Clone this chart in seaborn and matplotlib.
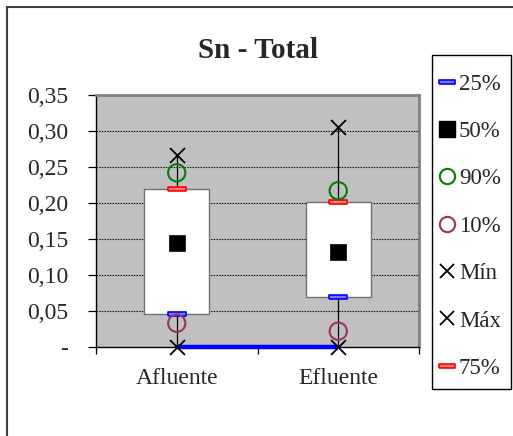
import numpy as np
import pandas as pd
import matplotlib
matplotlib.use("Agg")
import matplotlib.pyplot as plt
from matplotlib.lines import Line2D
from matplotlib.patches import Rectangle
import seaborn as sns

# Percentile summary per sampling point
categories = ["Afluente", "Efluente"]
p25 = [0.046, 0.069]
p50 = [0.145, 0.132]
p75 = [0.219, 0.202]
p90 = [0.242, 0.217]
p10 = [0.033, 0.022]
v_min = [0.0, 0.0]
v_max = [0.267, 0.305]

y_ticks = [0.0, 0.05, 0.10, 0.15, 0.20, 0.25, 0.30, 0.35]
y_tick_labels = ["-", "0,05", "0,10", "0,15", "0,20", "0,25", "0,30", "0,35"]
title = "Sn - Total"

sns.set_theme(style="white")
plt.rcParams["font.family"] = ["Liberation Serif", "DejaVu Serif"]

W, H = 513, 436
fig = plt.figure(figsize=(W / 100, H / 100), dpi=100)
ax = fig.add_axes([96 / W, 1 - 347 / H, (419 - 96) / W, (347 - 95) / H])
ax.set_facecolor("#c0c0c0")

pos = np.arange(len(categories))
df = pd.DataFrame({"x": pos, "cat": categories, "p10": p10, "p25": p25, "p50": p50,
                   "p75": p75, "p90": p90, "min": v_min, "max": v_max})

# gridlines
for t in y_ticks[1:-1]:
    ax.axhline(t, color="black", lw=0.8, ls=(0, (1.2, 1.2)), zorder=1)

# whiskers from min to max
for _, r in df.iterrows():
    ax.plot([r.x, r.x], [r["min"], r["max"]], color="black", lw=0.9, zorder=2)

# boxes from 25% to 75%
ax.bar(df.x, df.p75 - df.p25, bottom=df.p25, width=0.4, color="white",
       edgecolor="#707070", linewidth=1.0, zorder=3)

# line joining the minima
sns.lineplot(data=df, x="x", y="min", color="#0000ff", lw=3.2, ax=ax, zorder=4,
             clip_on=False, legend=False)

dash = [(-1, -0.22), (1, -0.22), (1, 0.22), (-1, 0.22), (-1, -0.22)]
styles = {
    "p25": dict(marker=dash, s=165, facecolor="#7777ff", edgecolor="#0000ff", linewidth=1.2),
    "p75": dict(marker=dash, s=165, facecolor="#ff7777", edgecolor="#ff0000", linewidth=1.2),
    "p50": dict(marker="s", s=125, facecolor="black", edgecolor="black", linewidth=0.5),
    "p90": dict(marker="o", s=155, facecolor="none", edgecolor="#008000", linewidth=1.5),
    "p10": dict(marker="o", s=155, facecolor="none", edgecolor="#993366", linewidth=1.5),
    "min": dict(marker="x", s=115, color="black", linewidth=1.3),
    "max": dict(marker="x", s=115, color="black", linewidth=1.3),
}
for col, st in styles.items():
    sns.scatterplot(data=df, x="x", y=col, ax=ax, zorder=5, clip_on=False, legend=False, **st)

ax.set_xlim(-0.5, 1.5)
ax.set_ylim(0, 0.35)
ax.set_xlabel("")
ax.set_ylabel("")
ax.set_yticks(y_ticks)
ax.set_yticklabels(y_tick_labels)
ax.set_xticks([-0.5, 0.5, 1.5])
ax.set_xticklabels([])
ax.set_xticks(pos, minor=True)
ax.set_xticklabels(categories, minor=True)
ax.tick_params(axis="y", which="major", direction="out", length=6, width=0.9,
               color="black", pad=14, labelsize=17, left=True)
ax.tick_params(axis="x", which="major", direction="out", length=5, width=0.9,
               color="black", bottom=True)
ax.tick_params(axis="x", which="minor", length=0, pad=15, labelsize=17)

for side in ["top", "right"]:
    ax.spines[side].set_color("#808080")
    ax.spines[side].set_linewidth(2)
for side in ["left", "bottom"]:
    ax.spines[side].set_color("black")
    ax.spines[side].set_linewidth(1.0)

ax.set_title(title, fontsize=21, fontweight="bold", pad=27)

# chart frame
fig.patches.append(Rectangle((7 / W, -0.1), 1.2, 1 - 7 / H + 0.1, transform=fig.transFigure,
                             facecolor="none", edgecolor="#404040", lw=1.5, zorder=0))

# legend frame
fig.patches.append(Rectangle((432 / W, 1 - 389 / H), (511 - 432) / W, (389 - 55) / H,
                             transform=fig.transFigure, facecolor="white",
                             edgecolor="black", lw=1.0, zorder=1))

handles = [
    Line2D([], [], ls="none", marker=dash, ms=12, mfc="#7777ff", mec="#0000ff", mew=1.2),
    Line2D([], [], ls="none", marker="s", ms=11, color="black"),
    Line2D([], [], ls="none", marker="o", ms=11, mfc="none", mec="#008000", mew=1.5),
    Line2D([], [], ls="none", marker="o", ms=11, mfc="none", mec="#993366", mew=1.5),
    Line2D([], [], ls="none", marker="x", ms=10, color="black", mew=1.3),
    Line2D([], [], ls="none", marker="x", ms=10, color="black", mew=1.3),
    Line2D([], [], ls="none", marker=dash, ms=12, mfc="#ff7777", mec="#ff0000", mew=1.2),
]
labels = ["25%", "50%", "90%", "10%", "Mín", "Máx", "75%"]
leg = fig.legend(handles, labels, loc="upper left", bbox_to_anchor=(439 / W, 1 - 73.5 / H),
                 frameon=False, fontsize=16.5,
                 handlelength=0.7, handletextpad=0.17, labelspacing=1.15,
                 borderpad=0, borderaxespad=0)
leg.set_zorder(2)

fig.savefig("out.png", dpi=100, facecolor="white")
